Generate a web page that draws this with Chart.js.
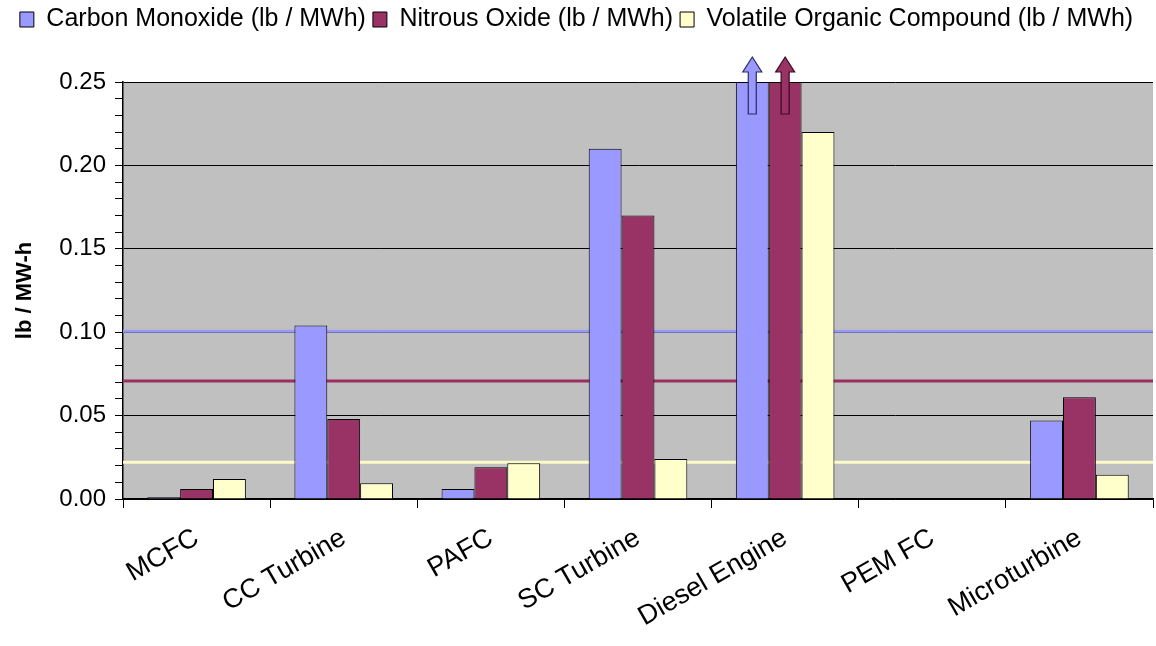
<!DOCTYPE html>
<html lang="en">
<head>
<meta charset="utf-8"/>
<title>Emissions by technology</title>
<style>
  body, html { margin: 0; padding: 0; background: #fff; }
  #chart { display: block; }
</style>
</head>
<body>
<canvas id="chart" width="1156" height="646"></canvas>
<script src="https://cdn.jsdelivr.net/npm/chart.js"></script>
<script>
  const categories = ['MCFC', 'CC Turbine', 'PAFC', 'SC Turbine', 'Diesel Engine', 'PEM FC', 'Microturbine'];
  const seriesNames = ['Carbon Monoxide (lb / MWh)', 'Nitrous Oxide (lb / MWh)', 'Volatile Organic Compound (lb / MWh)'];
  const carbonMonoxide = [0.001, 0.104, 0.006, 0.21, 0.25, null, 0.047];
  const nitrousOxide   = [0.006, 0.048, 0.019, 0.17, 0.25, null, 0.061];
  const volatileOrg    = [0.012, 0.0095, 0.0215, 0.024, 0.22, null, 0.0145];
  // horizontal reference levels, one per series
  const referenceLevels = [0.1005, 0.0708, 0.0221];
  // bars that run off the top of the scale (series index, category index)
  const offScale = [[0, 4], [1, 4]];

  const colors = ['#9999FF', '#993366', '#FFFFCC'];
  const lineColors = ['#9a9af5', '#9b2f62', '#fbfbc8'];
  const arrowEdges = ['#2a2a66', '#3a0a20'];
  const font = 'Liberation Sans, Arial, sans-serif';

  const plotBackground = {
    id: 'plotBackground',
    beforeDraw(chart) {
      const { ctx, chartArea: a } = chart;
      ctx.save();
      ctx.fillStyle = '#C0C0C0';
      ctx.fillRect(a.left, a.top, a.right - a.left, a.bottom - a.top);
      ctx.restore();
    },
    beforeDatasetsDraw(chart) {
      const { ctx, chartArea: a } = chart;
      const y = chart.scales.y;
      ctx.save();
      referenceLevels.forEach((v, i) => {
        const py = y.getPixelForValue(v);
        ctx.strokeStyle = lineColors[i];
        ctx.lineWidth = 3;
        ctx.beginPath();
        ctx.moveTo(a.left, py);
        ctx.lineTo(a.right, py);
        ctx.stroke();
      });
      ctx.restore();
    },
    afterDatasetsDraw(chart) {
      const { ctx, chartArea: a } = chart;
      ctx.save();
      offScale.forEach(([s, c]) => {
        const bar = chart.getDatasetMeta(s).data[c];
        const x = bar.x;
        const tip = a.top - 25, base = a.top - 10, bottom = a.top + 32;
        ctx.beginPath();
        ctx.moveTo(x, tip);
        ctx.lineTo(x + 9.5, base);
        ctx.lineTo(x + 4, base);
        ctx.lineTo(x + 4, bottom);
        ctx.lineTo(x - 4, bottom);
        ctx.lineTo(x - 4, base);
        ctx.lineTo(x - 9.5, base);
        ctx.closePath();
        ctx.fillStyle = colors[s];
        ctx.fill();
        ctx.strokeStyle = arrowEdges[s];
        ctx.lineWidth = 1.2;
        ctx.stroke();
      });
      ctx.restore();
    }
  };

  const fixLegend = {
    id: 'fixLegend',
    beforeInit(chart) {
      const fit = chart.legend.fit;
      chart.legend.fit = function () {
        fit.bind(chart.legend)();
        this.height = 82;
      };
    }
  };

  const datasets = [carbonMonoxide, nitrousOxide, volatileOrg].map((d, i) => ({
    label: seriesNames[i],
    data: d,
    backgroundColor: colors[i],
    borderColor: '#000',
    borderWidth: 1,
    borderSkipped: 'bottom',
    categoryPercentage: 0.67,
    barPercentage: 1.0
  }));

  new Chart(document.getElementById('chart').getContext('2d'), {
    type: 'bar',
    data: { labels: categories, datasets: datasets },
    plugins: [fixLegend, plotBackground],
    options: {
      responsive: false,
      animation: false,
      layout: { padding: { left: 0, right: 3, top: 0, bottom: 0 } },
      plugins: {
        tooltip: { enabled: false },
        legend: {
          position: 'top',
          labels: {
            color: '#000',
            font: { family: font, size: 25 },
            boxWidth: 14,
            boxHeight: 15,
            padding: 7
          }
        }
      },
      scales: {
        x: {
          offset: true,
          grid: { offset: true, drawOnChartArea: false, color: '#000', tickLength: 9, lineWidth: 1 },
          border: { color: '#000', width: 1.5 },
          ticks: {
            color: '#000',
            font: { family: font, size: 27 },
            maxRotation: 30,
            minRotation: 30,
            autoSkip: false,
            padding: 14
          },
          afterFit(scale) { scale.height = 147; }
        },
        y: {
          min: 0,
          max: 0.25,
          ticks: {
            stepSize: 0.01,
            autoSkip: false,
            color: '#000',
            padding: 9,
            font: { family: font, size: 24 },
            callback: v => (Math.round(v * 100) % 5 === 0 ? v.toFixed(2) : '')
          },
          grid: {
            color: c => (Math.round(c.tick.value * 100) % 5 === 0 ? '#000' : 'rgba(0,0,0,0)'),
            tickColor: '#000',
            tickLength: 8,
            lineWidth: 1
          },
          border: { color: '#000', width: 1.5 },
          title: {
            display: true,
            text: 'lb / MW-h',
            color: '#000',
            font: { family: font, size: 22, weight: 'bold' },
            padding: { top: 12, bottom: 4 }
          },
          afterFit(scale) { scale.width = 123; }
        }
      }
    }
  });
</script>
</body>
</html>
